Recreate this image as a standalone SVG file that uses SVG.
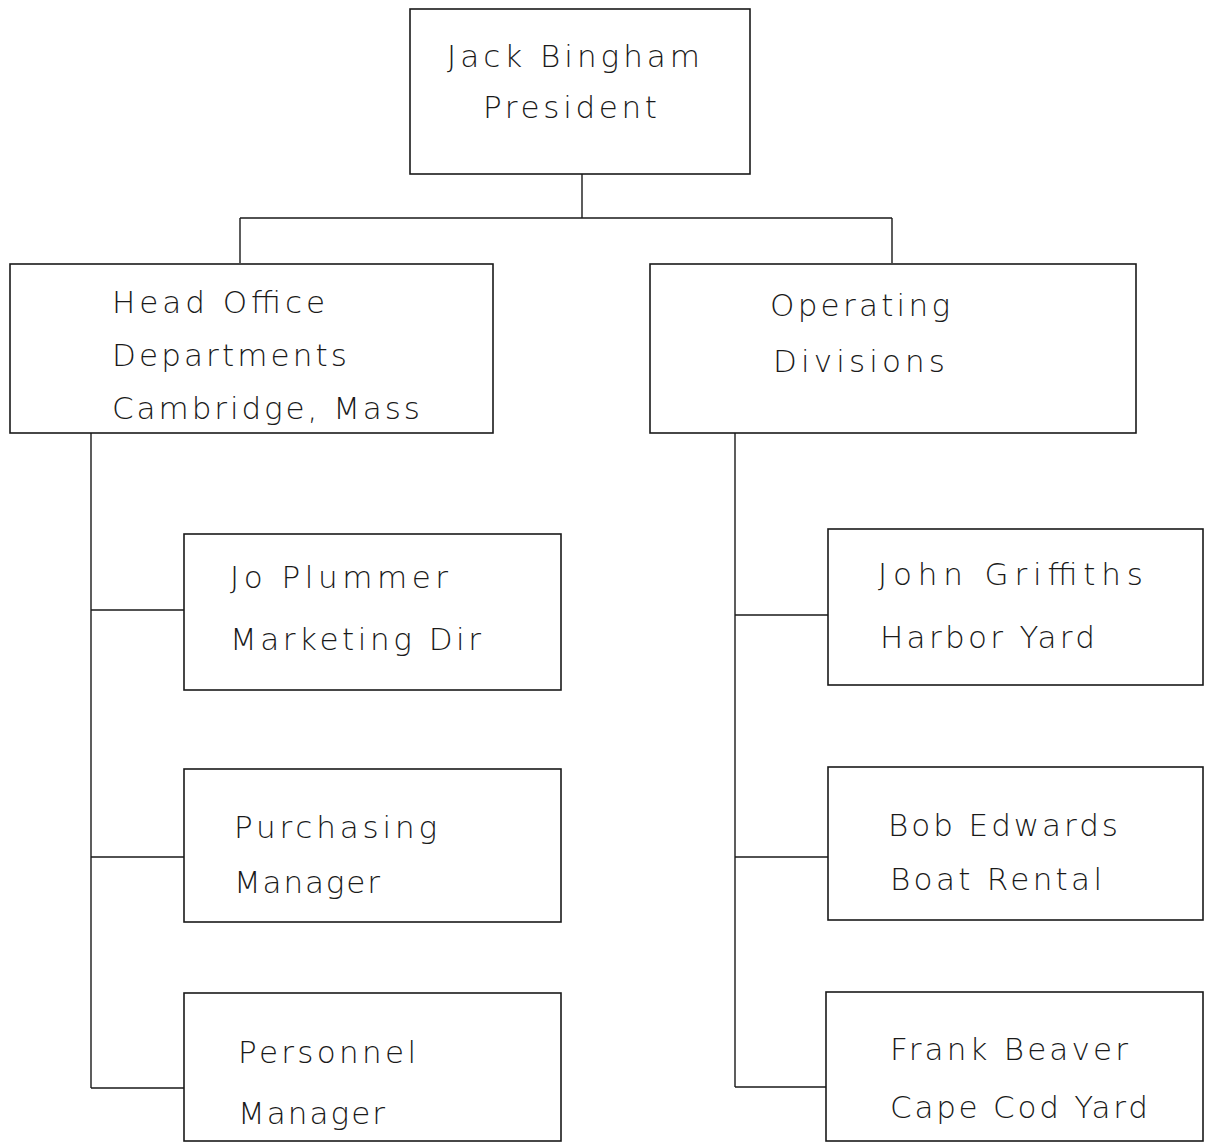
<svg xmlns="http://www.w3.org/2000/svg" width="1205" height="1145" viewBox="0 0 1205 1145">
<style>
.box{fill:#fff;stroke:#1a1a1a;stroke-width:1.6}
.ln{fill:none;stroke:#1a1a1a;stroke-width:1.4}
text{font-family:"DejaVu Sans","Liberation Sans",sans-serif;font-size:31px;fill:#1a1a1a;font-weight:300}
</style>
<rect width="1205" height="1145" fill="#fff"/>
<g id="connectors">
<path class="ln" d="M582 174V218M240 218H892M240 218V263M892 218V263"/>
<path class="ln" d="M91 432V1088M91 610H184M91 857H184M91 1088H184"/>
<path class="ln" d="M735 432V1087M735 615H828M735 857H828M735 1087H826"/>
</g>
<g id="president">
<rect class="box" x="410" y="9" width="340" height="165"/>
<text x="447" y="67" textLength="253" lengthAdjust="spacing">Jack Bingham</text>
<text x="483" y="118" textLength="174" lengthAdjust="spacing">President</text>
</g>
<g id="head-office">
<rect class="box" x="10" y="264" width="483" height="169"/>
<text x="112" y="313" textLength="213" lengthAdjust="spacing">Head Office</text>
<text x="112" y="366" textLength="235" lengthAdjust="spacing">Departments</text>
<text x="112" y="419" textLength="308" lengthAdjust="spacing">Cambridge, Mass</text>
</g>
<g id="operating">
<rect class="box" x="650" y="264" width="486" height="169"/>
<text x="770" y="316" textLength="180" lengthAdjust="spacing">Operating</text>
<text x="773" y="372" textLength="172" lengthAdjust="spacing">Divisions</text>
</g>
<g id="jo-plummer">
<rect class="box" x="184" y="534" width="377" height="156"/>
<text x="230" y="588" textLength="218" lengthAdjust="spacing">Jo Plummer</text>
<text x="230" y="650" textLength="251" lengthAdjust="spacing">Marketing Dir</text>
</g>
<g id="purchasing">
<rect class="box" x="184" y="769" width="377" height="153"/>
<text x="234" y="838" textLength="203" lengthAdjust="spacing">Purchasing</text>
<text x="234" y="893" textLength="146" lengthAdjust="spacing">Manager</text>
</g>
<g id="personnel">
<rect class="box" x="184" y="993" width="377" height="148"/>
<text x="238" y="1063" textLength="178" lengthAdjust="spacing">Personnel</text>
<text x="238" y="1124" textLength="147" lengthAdjust="spacing">Manager</text>
</g>
<g id="john-griffiths">
<rect class="box" x="828" y="529" width="375" height="156"/>
<text x="878" y="585" textLength="265" lengthAdjust="spacing">John Griffiths</text>
<text x="880" y="648" textLength="215" lengthAdjust="spacing">Harbor Yard</text>
</g>
<g id="bob-edwards">
<rect class="box" x="828" y="767" width="375" height="153"/>
<text x="888" y="836" textLength="230" lengthAdjust="spacing">Bob Edwards</text>
<text x="890" y="890" textLength="212" lengthAdjust="spacing">Boat Rental</text>
</g>
<g id="frank-beaver">
<rect class="box" x="826" y="992" width="377" height="149"/>
<text x="890" y="1060" textLength="238" lengthAdjust="spacing">Frank Beaver</text>
<text x="890" y="1118" textLength="258" lengthAdjust="spacing">Cape Cod Yard</text>
</g>
</svg>
